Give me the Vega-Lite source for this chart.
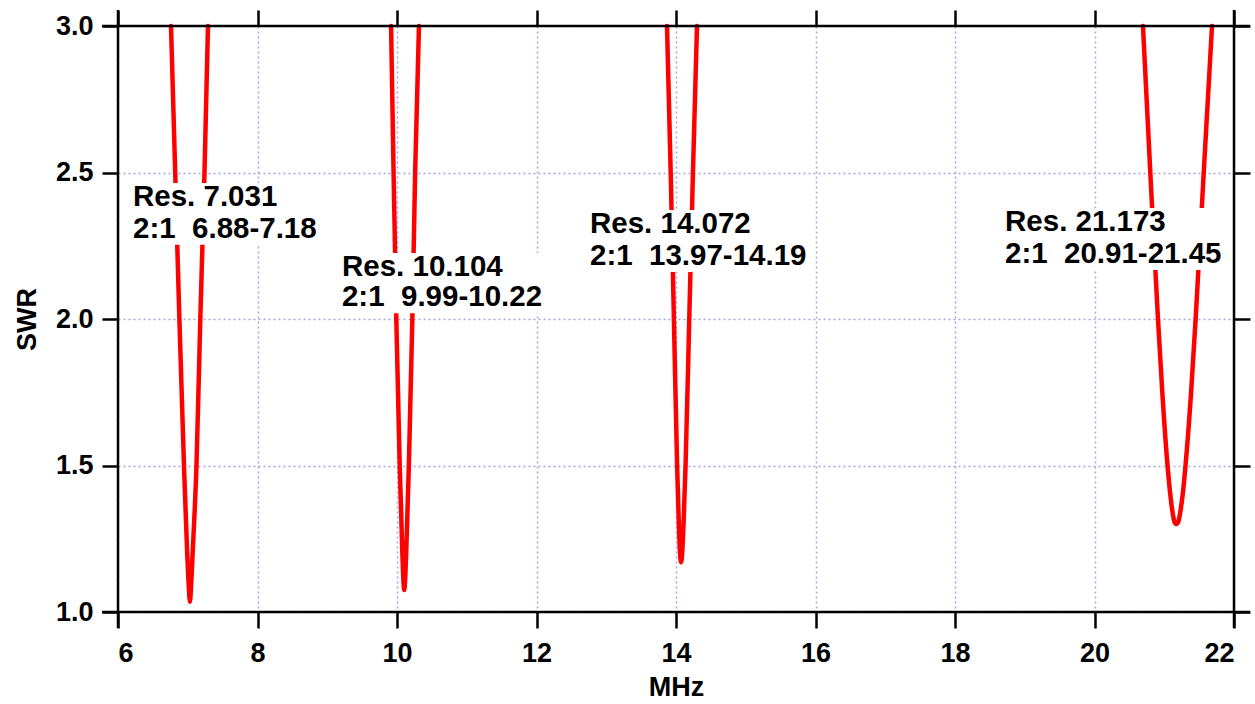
{
  "$schema": "https://vega.github.io/schema/vega-lite/v6.json",
  "width": 1116,
  "height": 586,
  "autosize": {"type": "none"},
  "padding": {"left": 118, "top": 26, "right": 21, "bottom": 92},
  "background": "white",
  "config": {
    "view": {"stroke": null},
    "axis": {
      "labelFont": "Liberation Sans",
      "labelFontWeight": "bold",
      "labelFontSize": 27,
      "labelColor": "black",
      "titleFont": "Liberation Sans",
      "titleFontWeight": "bold",
      "titleFontSize": 27,
      "titleColor": "black",
      "tickColor": "black",
      "tickWidth": 2.5,
      "tickSize": 16,
      "domain": false,
      "gridColor": "#a4a4e8",
      "gridDash": [2, 3],
      "gridWidth": 1.5
    }
  },
  "datasets": {
    "curves": [
      {"mhz": 6.760, "swr": 3.0, "res": "7.031"},
      {"mhz": 6.820, "swr": 2.5, "res": "7.031"},
      {"mhz": 6.880, "swr": 2.0, "res": "7.031"},
      {"mhz": 6.946, "swr": 1.5, "res": "7.031"},
      {"mhz": 6.992, "swr": 1.2, "res": "7.031"},
      {"mhz": 7.012, "swr": 1.1, "res": "7.031"},
      {"mhz": 7.031, "swr": 1.035, "res": "7.031"},
      {"mhz": 7.050, "swr": 1.1, "res": "7.031"},
      {"mhz": 7.070, "swr": 1.2, "res": "7.031"},
      {"mhz": 7.125, "swr": 1.5, "res": "7.031"},
      {"mhz": 7.180, "swr": 2.0, "res": "7.031"},
      {"mhz": 7.240, "swr": 2.5, "res": "7.031"},
      {"mhz": 7.290, "swr": 3.0, "res": "7.031"},

      {"mhz": 9.915, "swr": 3.0, "res": "10.104"},
      {"mhz": 9.951, "swr": 2.5, "res": "10.104"},
      {"mhz": 9.990, "swr": 2.0, "res": "10.104"},
      {"mhz": 10.039, "swr": 1.5, "res": "10.104"},
      {"mhz": 10.077, "swr": 1.2, "res": "10.104"},
      {"mhz": 10.094, "swr": 1.1, "res": "10.104"},
      {"mhz": 10.104, "swr": 1.075, "res": "10.104"},
      {"mhz": 10.114, "swr": 1.1, "res": "10.104"},
      {"mhz": 10.132, "swr": 1.2, "res": "10.104"},
      {"mhz": 10.170, "swr": 1.5, "res": "10.104"},
      {"mhz": 10.220, "swr": 2.0, "res": "10.104"},
      {"mhz": 10.260, "swr": 2.5, "res": "10.104"},
      {"mhz": 10.315, "swr": 3.0, "res": "10.104"},

      {"mhz": 13.871, "swr": 3.0, "res": "14.072"},
      {"mhz": 13.924, "swr": 2.5, "res": "14.072"},
      {"mhz": 13.970, "swr": 2.0, "res": "14.072"},
      {"mhz": 14.016, "swr": 1.5, "res": "14.072"},
      {"mhz": 14.041, "swr": 1.3, "res": "14.072"},
      {"mhz": 14.058, "swr": 1.2, "res": "14.072"},
      {"mhz": 14.072, "swr": 1.17, "res": "14.072"},
      {"mhz": 14.088, "swr": 1.2, "res": "14.072"},
      {"mhz": 14.108, "swr": 1.3, "res": "14.072"},
      {"mhz": 14.137, "swr": 1.5, "res": "14.072"},
      {"mhz": 14.190, "swr": 2.0, "res": "14.072"},
      {"mhz": 14.243, "swr": 2.5, "res": "14.072"},
      {"mhz": 14.301, "swr": 3.0, "res": "14.072"},

      {"mhz": 20.695, "swr": 3.0, "res": "21.173"},
      {"mhz": 20.800, "swr": 2.5, "res": "21.173"},
      {"mhz": 20.910, "swr": 2.0, "res": "21.173"},
      {"mhz": 20.972, "swr": 1.75, "res": "21.173"},
      {"mhz": 21.047, "swr": 1.5, "res": "21.173"},
      {"mhz": 21.087, "swr": 1.4, "res": "21.173"},
      {"mhz": 21.113, "swr": 1.35, "res": "21.173"},
      {"mhz": 21.144, "swr": 1.31, "res": "21.173"},
      {"mhz": 21.173, "swr": 1.30, "res": "21.173"},
      {"mhz": 21.204, "swr": 1.31, "res": "21.173"},
      {"mhz": 21.236, "swr": 1.35, "res": "21.173"},
      {"mhz": 21.264, "swr": 1.4, "res": "21.173"},
      {"mhz": 21.305, "swr": 1.5, "res": "21.173"},
      {"mhz": 21.385, "swr": 1.75, "res": "21.173"},
      {"mhz": 21.450, "swr": 2.0, "res": "21.173"},
      {"mhz": 21.566, "swr": 2.5, "res": "21.173"},
      {"mhz": 21.685, "swr": 3.0, "res": "21.173"}
    ],
    "boxes": [
      {"x1": 6.129, "x2": 8.896, "y1": 2.253, "y2": 2.464},
      {"x1": 9.125, "x2": 12.151, "y1": 2.020, "y2": 2.225},
      {"x1": 12.681, "x2": 15.921, "y1": 2.160, "y2": 2.372},
      {"x1": 18.631, "x2": 21.885, "y1": 2.167, "y2": 2.379}
    ],
    "labels": [
      {"x": 6.215, "y": 2.416, "label": "Res. 7.031"},
      {"x": 6.215, "y": 2.307, "label": "2:1\u00a0\u00a06.88-7.18"},
      {"x": 9.211, "y": 2.177, "label": "Res. 10.104"},
      {"x": 9.211, "y": 2.075, "label": "2:1\u00a0\u00a09.99-10.22"},
      {"x": 12.767, "y": 2.324, "label": "Res. 14.072"},
      {"x": 12.767, "y": 2.215, "label": "2:1\u00a0\u00a013.97-14.19"},
      {"x": 18.717, "y": 2.331, "label": "Res. 21.173"},
      {"x": 18.717, "y": 2.222, "label": "2:1\u00a0\u00a020.91-21.45"}
    ],
    "hframe": [
      {"x": 5.771, "x2": 22.229, "y": 1.0},
      {"x": 5.771, "x2": 22.229, "y": 3.0}
    ],
    "vframe": [
      {"x": 6, "y": 0.945, "y2": 3.055},
      {"x": 22, "y": 0.945, "y2": 3.055}
    ]
  },
  "resolve": {"axis": {"x": "independent", "y": "independent"}},
  "layer": [
    {
      "data": {"name": "curves"},
      "mark": {"type": "line", "color": "#ff0000", "strokeWidth": 4.5, "interpolate": "monotone", "strokeCap": "round", "strokeJoin": "round"},
      "encoding": {
        "x": {"field": "mhz", "type": "quantitative",
              "scale": {"domain": [6, 22], "nice": false, "zero": false},
              "axis": {"orient": "bottom", "values": [6, 8, 10, 12, 14, 16, 18, 20, 22], "grid": true, "title": "MHz", "labelPadding": 12, "titlePadding": 8}},
        "y": {"field": "swr", "type": "quantitative",
              "scale": {"domain": [1, 3], "nice": false, "zero": false},
              "axis": {"orient": "left", "values": [1, 1.5, 2, 2.5, 3], "format": ".1f", "grid": true, "title": "SWR", "labelPadding": 9, "titlePadding": 14}},
        "detail": {"field": "res", "type": "nominal"}
      }
    },
    {
      "data": {"name": "boxes"},
      "mark": {"type": "rect", "fill": "white"},
      "encoding": {
        "x": {"field": "x1", "type": "quantitative", "axis": null},
        "x2": {"field": "x2"},
        "y": {"field": "y1", "type": "quantitative", "axis": null},
        "y2": {"field": "y2"}
      }
    },
    {
      "data": {"name": "labels"},
      "mark": {"type": "text", "align": "left", "baseline": "middle", "font": "Liberation Sans", "fontWeight": "bold", "fontSize": 29.5, "color": "black"},
      "encoding": {
        "x": {"field": "x", "type": "quantitative", "axis": null},
        "y": {"field": "y", "type": "quantitative", "axis": null},
        "text": {"field": "label", "type": "nominal"}
      }
    },
    {
      "data": {"name": "hframe"},
      "mark": {"type": "rule", "color": "black", "strokeWidth": 2.5, "clip": false},
      "encoding": {
        "x": {"field": "x", "type": "quantitative",
              "axis": {"orient": "top", "values": [6, 8, 10, 12, 14, 16, 18, 20, 22], "labels": false, "grid": false, "title": null}},
        "x2": {"field": "x2"},
        "y": {"field": "y", "type": "quantitative",
              "axis": {"orient": "right", "values": [1, 1.5, 2, 2.5, 3], "labels": false, "grid": false, "title": null}}
      }
    },
    {
      "data": {"name": "vframe"},
      "mark": {"type": "rule", "color": "black", "strokeWidth": 2.5, "clip": false},
      "encoding": {
        "x": {"field": "x", "type": "quantitative", "axis": null},
        "y": {"field": "y", "type": "quantitative", "axis": null},
        "y2": {"field": "y2"}
      }
    }
  ]
}
